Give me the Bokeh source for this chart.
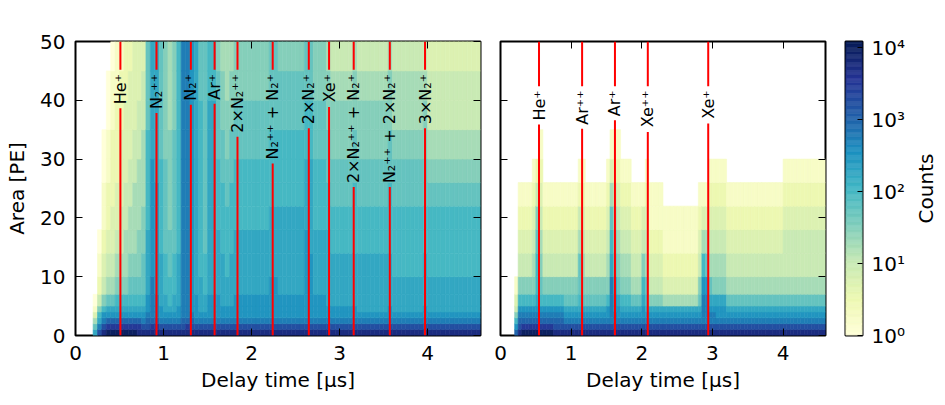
import math
from bokeh.plotting import figure
from bokeh.layouts import row
from bokeh.models import (Range1d, LinearAxis, FixedTicker, CustomJSTickFormatter,
                          LogColorMapper, ColumnDataSource)
from bokeh.core.properties import value
from bokeh.embed import file_html
from bokeh.resources import INLINE

# ------------------------------------------------------------------ data
TIME_BIN_US = 0.05
AREA_EDGES = [0, 1, 2, 3, 4, 5, 7, 10, 14, 18, 22, 26, 30, 35, 40, 45, 50]
LEVEL_CODES = "0123456789ABCDEFG"   # log10(counts) = index / 4 ; "." = no counts

X_TICKS = [0, 1, 2, 3, 4]
Y_TICKS = [0, 10, 20, 30, 40, 50]
CBAR_TICKS = [1, 10, 100, 1000, 10000]
CBAR_LABELS = ["10⁰", "10¹", "10²", "10³", "10⁴"]
COUNTS_MIN, COUNTS_MAX = 1, 12300

LEFT_LINES_US = [0.51, 0.92, 1.31, 1.58, 1.84, 2.24, 2.65, 2.88, 3.16, 3.57, 3.97]
LEFT_LABELS = ["He⁺", "N₂⁺⁺", "N₂⁺", "Ar⁺", "2×N₂⁺⁺", "N₂⁺⁺ + N₂⁺", "2×N₂⁺", "Xe⁺",
               "2×N₂⁺⁺ + N₂⁺", "N₂⁺⁺ + 2×N₂⁺", "3×N₂⁺"]
RIGHT_LINES_US = [0.545, 1.155, 1.62, 2.085, 2.94]
RIGHT_LABELS = ["He⁺", "Ar⁺⁺", "Ar⁺", "Xe⁺⁺", "Xe⁺"]

# each string: one 0.05 us column, area rows from bottom (0-1 PE) to top (45-50 PE)
LEFT_COLS = (
    ["................"] * 4 +
    ["975310.........."] +           # 0.20
    ["DB9864210......."] +           # 0.25
    ["FDBA864321100..."] +           # 0.30
    ["GECA97543221100."] +           # 0.35
    ["GECA975433222110"] +           # 0.40
    ["GECA986543322211"] +           # 0.45
    ["GECA986544333221"] +           # 0.50
    ["GECA986554433322"] +           # 0.55
    ["GECA987655443332"] +           # 0.60
    ["GECA987655544333"] +           # 0.65
    ["FECA987665554433"] +           # 0.70
    ["FDBA987766555443"] +           # 0.75
    ["FDCBAA9998888777"] +           # 0.80
    ["FECBBBBAAAAA9999"] +           # 0.85
    ["FECBBBAAAAA99999"] +           # 0.90
    ["FDBAA99988887777"] +           # 0.95
    ["FDBA998877776666"] +           # 1.00
    ["FDBA988776666555"] +           # 1.05
    ["FDBA998877777666"] +           # 1.10
    ["FDBAA99988888888"] +           # 1.15
    ["FDCBBBBBBBBBBBBB"] +           # 1.20
    ["FECBBBBBBBBBBBBB"] +           # 1.25
    ["FDCBAAAAAAAAAAAA"] +           # 1.30
    ["FDBAAA9999999999"] +           # 1.35
    ["FDBA999888888877"] +           # 1.40
    ["FDBA998877777777"] +           # 1.45
    ["FDBAAA9999999988"] * 2 +       # 1.50-1.60
    ["FDBAAA9998887776"] +           # 1.60
    ["FDBAA99988877665"] +           # 1.65
    ["FDBAA99888776655"] +           # 1.70
    ["FDBAA99988877665"] +           # 1.75
    ["FDBAAA9998887766"] +           # 1.80
    ["FDBAAA9998887766"] * 7 +       # 1.85-2.20
    ["FDBAAAA999888777"] * 2 +       # 2.20-2.30
    ["FDBAAA9999888776"] * 4 +       # 2.30-2.50
    ["FDBAAA9999888776"] * 2 +       # 2.50-2.60
    ["FDBAAAAAA9998877"] +           # 2.60
    ["FDBAAAAA99998877"] +           # 2.65
    ["FDBAAA9998887766"] * 3 +       # 2.70-2.85
    ["FDBAA99998877665"] +           # 2.85
    ["FDBAA99988776654"] * 5 +       # 2.90-3.15
    ["FDBAA99988877665"] +           # 3.15
    ["FDBA999988776654"] * 7 +       # 3.20-3.55
    ["FDBAA99988877665"] +           # 3.55
    ["FDBA999888776554"] * 7 +       # 3.60-3.95
    ["FDBAA99988776654"] +           # 3.95
    ["FDBA999888765443"] * 12        # 4.00-4.60
)

RIGHT_COLS = (
    ["................"] * 4 +
    ["CA86431........."] +           # 0.20
    ["FDCBA864321....."] +           # 0.25
    ["GECBA864321....."] * 3 +       # 0.30-0.45
    ["GECBA8654321...."] +           # 0.45
    ["GECBA9887642...."] +           # 0.50  He+ tail
    ["GECBA87654321..."] +           # 0.55
    ["GECBA864321....."] * 3 +       # 0.60-0.75
    ["FDCBA864321....."] * 3 +       # 0.75-0.90
    ["FDBA9764321....."] * 4 +       # 0.90-1.10
    ["FDBA98775421...."] +           # 1.10  Ar++ tail
    ["FDBA97654321...."] +           # 1.15
    ["FDBA9764321....."] * 6 +       # 1.20-1.50
    ["FDBAA8654321...."] +           # 1.50
    ["FDBBBBB987531..."] +           # 1.55  Ar+ tail
    ["FDBBAA9765421..."] +           # 1.60
    ["FDBAA97654321..."] +           # 1.65
    ["FDBA98654321...."] * 3 +       # 1.70-1.85
    ["FDBA9754321....."] * 3 +       # 1.85-2.00
    ["FDBAA986431....."] +           # 2.00  Xe++ tail
    ["FDBA98754321...."] +           # 2.05
    ["FDBA9643211....."] * 4 +       # 2.10-2.30
    ["FDBA953211......"] * 10 +      # 2.30-2.80
    ["FDBA9764321....."] +           # 2.80
    ["FDBBBBA8531....."] +           # 2.85  Xe+ blob
    ["FDBBBBA7531....."] +           # 2.90
    ["FDBBA9754321...."] +           # 2.95
    ["FDBBA9654321...."] +           # 3.00
    ["FDBAA9654321...."] * 3 +       # 3.05-3.20
    ["FDBA9754321....."] * 16 +      # 3.20-4.00
    ["FDBA97544321...."] * 12        # 4.00-4.60
)

# ------------------------------------------------------------------ style
FONT = "DejaVu Sans"
YLGNBU9 = ['#ffffd9', '#edf8b1', '#c7e9b4', '#7fcdbb', '#41b6c4',
           '#1d91c0', '#225ea8', '#253494', '#081d58']


def interp_colors(stops, n):
    rgb = [tuple(int(s[i:i + 2], 16) for i in (1, 3, 5)) for s in stops]
    out = []
    for k in range(n):
        t = k / (n - 1) * (len(rgb) - 1)
        i = min(int(t), len(rgb) - 2)
        f = t - i
        c = [round(rgb[i][j] + (rgb[i + 1][j] - rgb[i][j]) * f) for j in range(3)]
        out.append("#%02x%02x%02x" % tuple(c))
    return out


PALETTE = interp_colors(YLGNBU9, 256)
MAPPER = LogColorMapper(palette=PALETTE, low=COUNTS_MIN, high=COUNTS_MAX)

FRAME_H = 294
LABEL_FS = 16
CHAR_EM = {'H': 0.752, 'e': 0.615, 'N': 0.748, 'A': 0.684, 'r': 0.411, 'X': 0.685,
           '2': 0.636, '3': 0.636, '×': 0.838, ' ': 0.318, '+': 0.838,
           '₂': 0.401, '⁺': 0.528}


def cell_source(cols):
    d = dict(left=[], right=[], bottom=[], top=[], counts=[])
    for i, col in enumerate(cols):
        for k, ch in enumerate(col):
            if ch == ".":
                continue
            d["left"].append(i * TIME_BIN_US)
            d["right"].append((i + 1) * TIME_BIN_US)
            d["bottom"].append(AREA_EDGES[k])
            d["top"].append(AREA_EDGES[k + 1])
            d["counts"].append(10 ** (LEVEL_CODES.index(ch) / 4))
    return ColumnDataSource(d)


def style_axis(ax, ticks, show_labels):
    ax.ticker = FixedTicker(ticks=ticks)
    ax.major_tick_in = 7
    ax.major_tick_out = 0
    ax.minor_tick_in = 0
    ax.minor_tick_out = 0
    ax.major_tick_line_color = "black"
    ax.major_tick_line_width = 1
    ax.axis_line_color = None
    ax.major_label_text_font = FONT
    ax.major_label_text_font_size = "20px"
    ax.major_label_text_color = "black"
    ax.axis_label_text_font = FONT
    ax.axis_label_text_font_size = "20px"
    ax.axis_label_text_font_style = "normal"
    ax.axis_label_text_color = "black"
    if show_labels:
        ax.major_label_standoff = 10
    else:
        ax.major_label_standoff = 0
        ax.formatter = CustomJSTickFormatter(code="return ''")


def make_panel(cols, lines, labels, label_top, frame_w, border_l, ylabel):
    p = figure(frame_width=frame_w, frame_height=FRAME_H,
               x_range=Range1d(0, 4.6), y_range=Range1d(0, 50),
               output_backend="svg", toolbar_location=None,
               min_border_left=border_l, min_border_right=10,
               min_border_top=41, min_border_bottom=62)
    p.background_fill_color = "white"
    p.border_fill_color = "white"
    p.grid.visible = False
    p.outline_line_color = "black"
    p.outline_line_width = 2

    src = cell_source(cols)
    cmap = {"field": "counts", "transform": MAPPER}
    p.quad(left="left", right="right", bottom="bottom", top="top", source=src,
           fill_color=cmap, line_color=cmap, line_width=0.6)

    px_per_area = FRAME_H / 50.0
    gap = 4 / px_per_area
    low_top = []
    for lab in labels:
        length_px = sum(CHAR_EM.get(ch, 0.6) for ch in lab) * LABEL_FS
        low_top.append(label_top - length_px / px_per_area - gap)
    n = len(lines)
    p.segment(x0=lines, y0=[0] * n, x1=lines, y1=low_top, line_color="red", line_width=2)
    p.segment(x0=lines, y0=[label_top + gap] * n, x1=lines, y1=[50] * n,
              line_color="red", line_width=2)
    p.text(x=lines, y=[label_top] * n, text=labels, angle=math.pi / 2,
           text_align="right", text_baseline="middle",
           text_font=value(FONT), text_font_size=f"{LABEL_FS}px", text_color="black")

    style_axis(p.xaxis[0], X_TICKS, True)
    style_axis(p.yaxis[0], Y_TICKS, ylabel is not None)
    p.xaxis[0].axis_label = "Delay time [µs]"
    p.xaxis[0].axis_label_standoff = 5
    if ylabel:
        p.yaxis[0].axis_label = ylabel
        p.yaxis[0].axis_label_standoff = 8
    top_ax = LinearAxis()
    style_axis(top_ax, X_TICKS, False)
    p.add_layout(top_ax, "above")
    right_ax = LinearAxis()
    style_axis(right_ax, Y_TICKS, False)
    p.add_layout(right_ax, "right")
    return p


p1 = make_panel(LEFT_COLS, LEFT_LINES_US, LEFT_LABELS, 44.5, 405, 75, "Area [PE]")
p2 = make_panel(RIGHT_COLS, RIGHT_LINES_US, RIGHT_LABELS, 41.7, 325, 10, None)

# colour bar
p3 = figure(frame_width=17, frame_height=FRAME_H, x_range=Range1d(0, 1),
            y_range=Range1d(COUNTS_MIN, COUNTS_MAX), y_axis_type="log",
            y_axis_location="right", x_axis_location=None,
            output_backend="svg", toolbar_location=None,
            min_border_left=10, min_border_right=45, min_border_top=41, min_border_bottom=62)
p3.grid.visible = False
p3.outline_line_color = "black"
p3.outline_line_width = 2
p3.border_fill_color = "white"
lmax = math.log10(COUNTS_MAX / COUNTS_MIN)
nb = len(PALETTE)
p3.quad(left=[0] * nb, right=[1] * nb,
        bottom=[COUNTS_MIN * 10 ** (lmax * i / nb) for i in range(nb)],
        top=[COUNTS_MIN * 10 ** (lmax * (i + 1) / nb) for i in range(nb)],
        fill_color=PALETTE, line_color=PALETTE, line_width=0.5)
cax = p3.yaxis[0]
cax.ticker = FixedTicker(ticks=CBAR_TICKS)
cax.major_label_overrides = {t: l for t, l in zip(CBAR_TICKS, CBAR_LABELS)}
cax.major_tick_in = 5
cax.major_tick_out = 0
cax.minor_tick_in = 0
cax.minor_tick_out = 0
cax.axis_line_color = None
cax.major_tick_line_color = "black"
cax.major_label_standoff = 9
cax.major_label_text_font = FONT
cax.major_label_text_font_size = "20px"
cax.major_label_text_color = "black"

# colour-bar title ("Counts"), reading bottom to top
p4 = figure(frame_width=1, frame_height=FRAME_H, x_range=Range1d(0, 1), y_range=Range1d(0, 1),
            x_axis_location=None, output_backend="svg", toolbar_location=None,
            min_border_left=30, min_border_right=0, min_border_top=41, min_border_bottom=62)
p4.grid.visible = False
p4.outline_line_color = None
p4.border_fill_color = "white"
p4.background_fill_color = "white"
tax = p4.yaxis[0]
tax.major_tick_in = 0
tax.major_tick_out = 0
tax.minor_tick_in = 0
tax.minor_tick_out = 0
tax.axis_line_color = None
tax.major_label_standoff = 0
tax.formatter = CustomJSTickFormatter(code="return ''")
tax.axis_label = "Counts"
tax.axis_label_standoff = 0
tax.axis_label_text_font = FONT
tax.axis_label_text_font_size = "20px"
tax.axis_label_text_font_style = "normal"
tax.axis_label_text_color = "black"

layout = row(p1, p2, p3, p4)
open("out.html", "w").write(file_html(layout, INLINE))
